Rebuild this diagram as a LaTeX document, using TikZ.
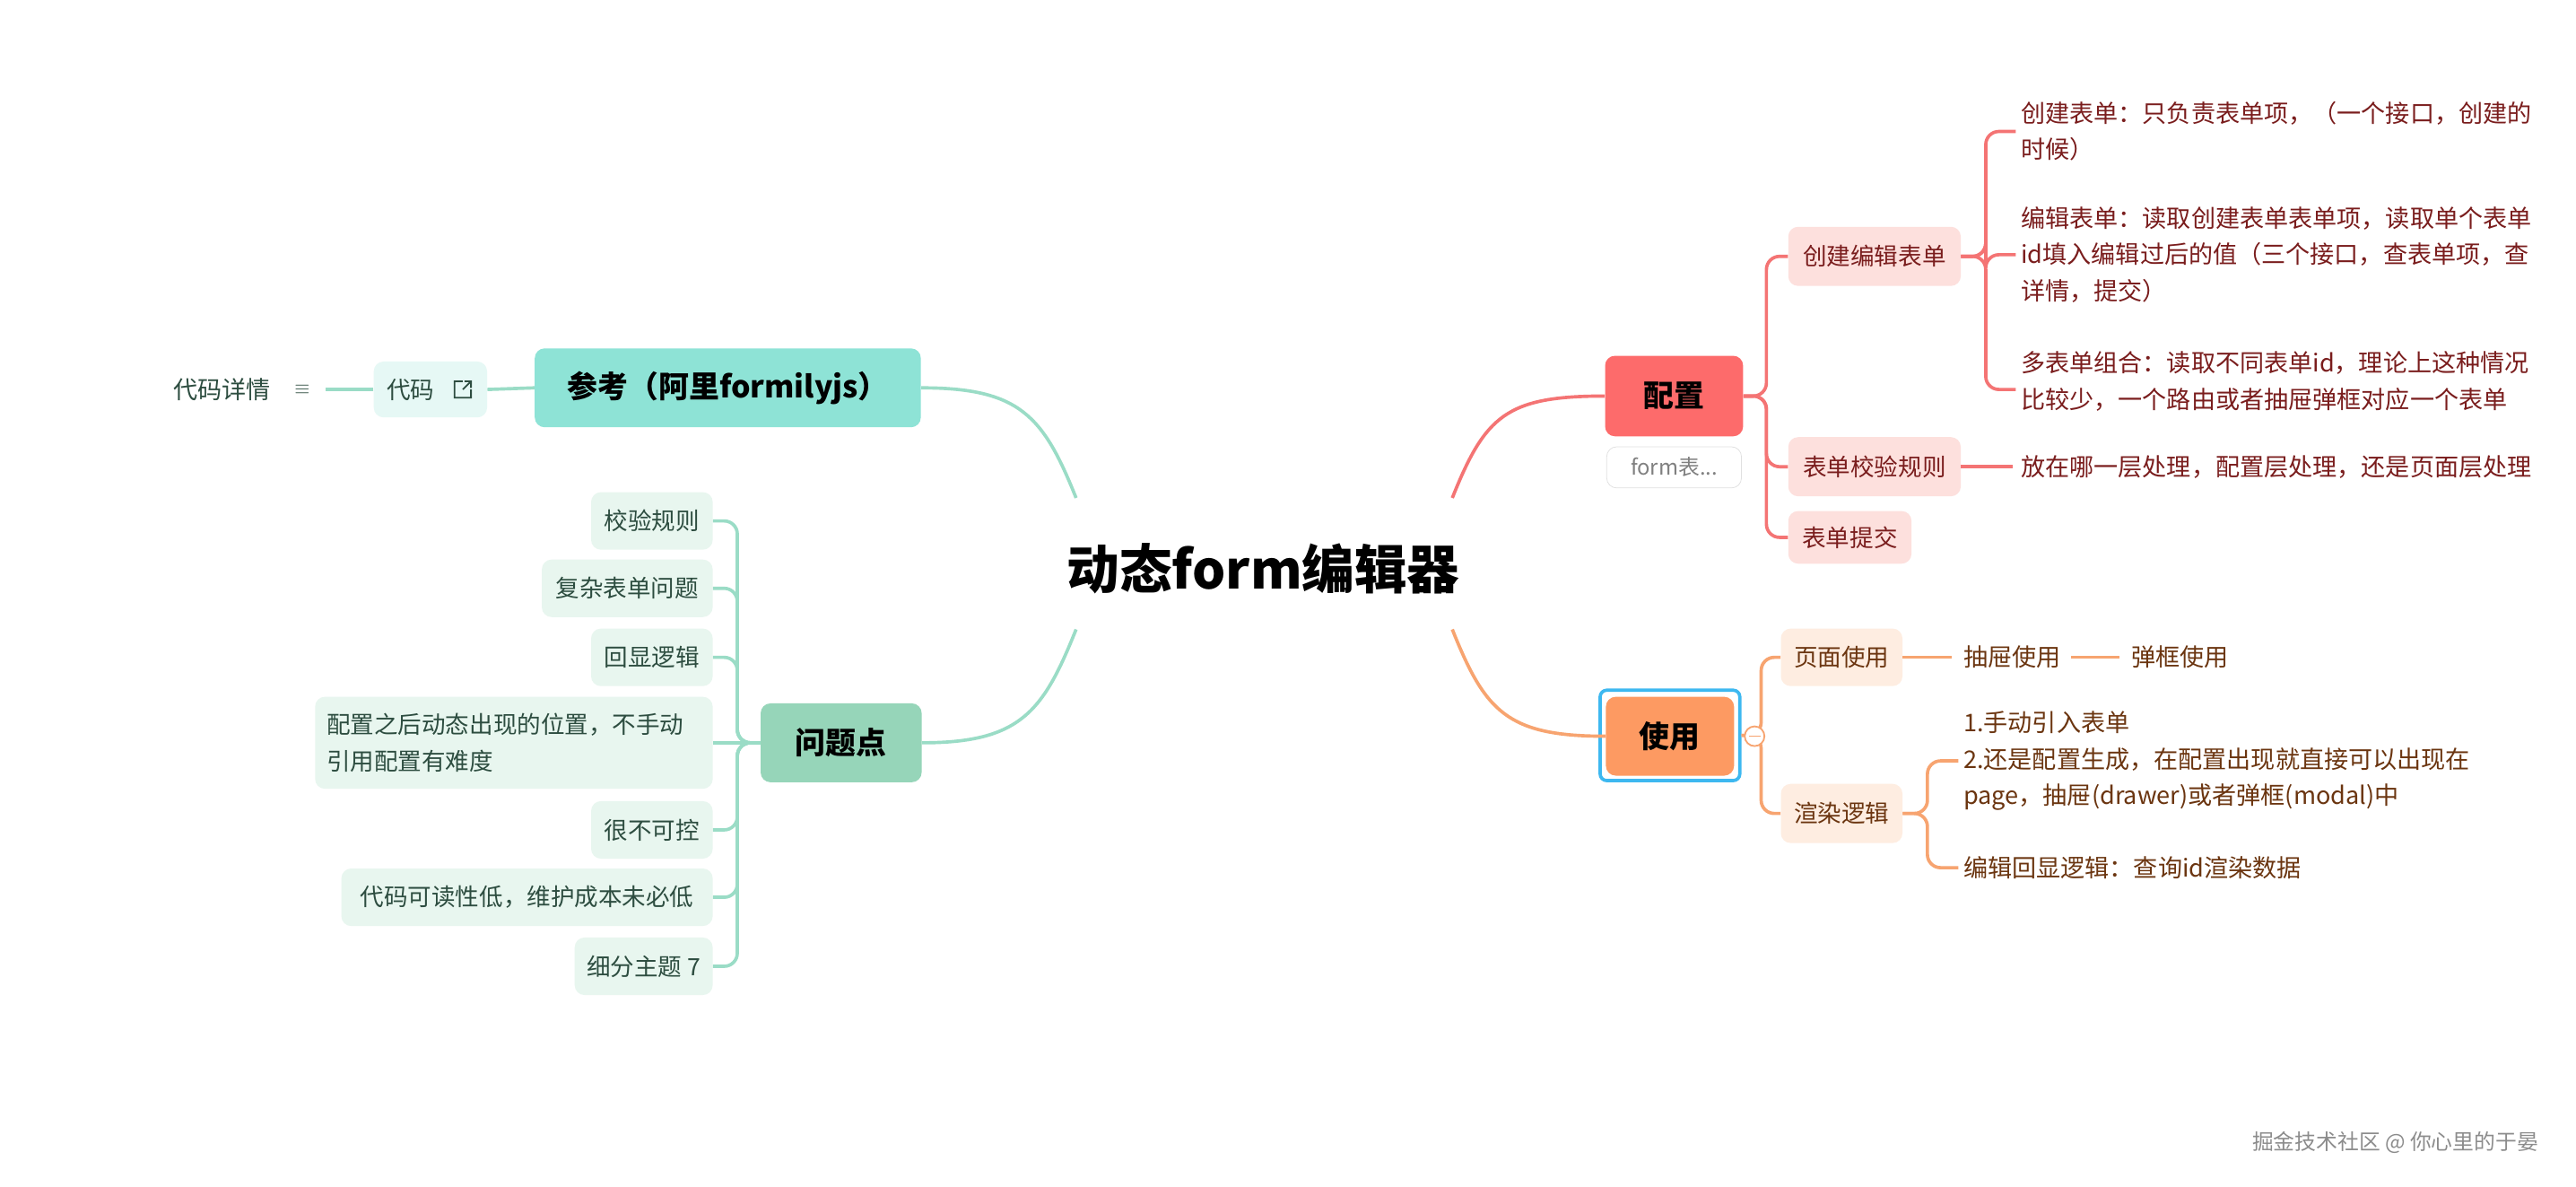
\documentclass[tikz,border=0pt]{standalone}
\usepackage{fontspec}
\setmainfont{Noto Sans CJK SC}
\usepackage{tikz}
\usetikzlibrary{positioning, calc}
\definecolor{refmain}{HTML}{8EE3D6}
\definecolor{refsub}{HTML}{E6F8F5}
\definecolor{probmain}{HTML}{96D5B9}
\definecolor{probsub}{HTML}{E8F6EF}
\definecolor{greenline}{HTML}{9ADCC6}
\definecolor{greentext}{HTML}{2D4D40}
\definecolor{cfgmain}{HTML}{FD6B6B}
\definecolor{cfgsub}{HTML}{FDE0DD}
\definecolor{cfgline}{HTML}{F47474}
\definecolor{cfgtext}{HTML}{7A1D1D}
\definecolor{usemain}{HTML}{FD9A62}
\definecolor{usesub}{HTML}{FEEDE1}
\definecolor{useline}{HTML}{F7A470}
\definecolor{usetext}{HTML}{6B3510}
\definecolor{selblue}{HTML}{3DB8F0}
\tikzset{
    main/.style={rectangle, rounded corners=6pt, font=\fontsize{18.5}{22}\selectfont\bfseries, text=black, inner sep=0pt},
    sub/.style={rectangle, rounded corners=6pt, font=\fontsize{14.5}{22}\selectfont, inner sep=0pt, minimum height=35pt},
    leaf/.style={font=\fontsize{14.8}{22}\selectfont, align=left, anchor=west, inner sep=0pt},
    link/.style={line width=2pt, rounded corners=8pt},
}
\begin{document}
\begin{tikzpicture}[x=1pt, y=-1pt]
    \useasboundingbox[fill=white] (0,0) rectangle (1568,722);

    % centre
    \node[font=\fontsize{32}{36}\selectfont\bfseries] (root) at (769,346) {动态form编辑器};

    % left: reference
    \node[main, fill=refmain, minimum width=235pt, minimum height=48pt] (ref) at (443,236) {参考（阿里formilyjs）};
    \node[sub, fill=refsub, text=greentext, minimum width=69pt, minimum height=34pt] (code) at (262,237) {代码\hspace{24pt}\mbox{}};
    \coordinate (codeicon) at ($(code.east)+(-15,0)$);
    \draw[greentext, line width=1pt] ($(codeicon)+(0,-5)$) -- ++(-5,0) -- ++(0,10) -- ++(10,0) -- ++(0,-5)
        ($(codeicon)+(0,0)$) -- ++(5,-5) ++(-4,0) -- ++(4,0) -- ++(0,4);
    \node[leaf, text=greentext, anchor=center] (detail) at (135,237) {代码详情};
    \node[font=\fontsize{13}{13}\selectfont, text=greentext] (detailicon) at (184,237) {$\equiv$};
    \coordinate (rl1) at (655,303);
    \coordinate (rl2) at (655,383);
    \draw[greenline, line width=2pt] (rl1) .. controls ++(-20,-50) and ++(60,0) .. (ref.east);
    \draw[greenline, line width=2pt] (ref.west) -- (code.east);
    \draw[greenline, line width=2pt] (code.west) -- ($(detailicon.east)+(6,0)$);

    % left: problems
    \node[main, fill=probmain, minimum width=98pt, minimum height=48pt] (prob) at (512,452) {问题点};
    \draw[greenline, line width=2pt] (rl2) .. controls ++(-20,50) and ++(60,0) .. (prob.east);
    \node[sub, fill=probsub, text=greentext, minimum width=74pt, anchor=east] (p1) at (434,317) {校验规则};
    \node[sub, fill=probsub, text=greentext, minimum width=104pt, anchor=east] (p2) at (434,358) {复杂表单问题};
    \node[sub, fill=probsub, text=greentext, minimum width=74pt, anchor=east] (p3) at (434,400) {回显逻辑};
    \node[sub, fill=probsub, text=greentext, minimum width=242pt, minimum height=56pt, anchor=east, align=left, text width=228pt] (p4) at (434,452) {配置之后动态出现的位置，不手动\\引用配置有难度};
    \node[sub, fill=probsub, text=greentext, minimum width=74pt, anchor=east] (p5) at (434,505) {很不可控};
    \node[sub, fill=probsub, text=greentext, minimum width=226pt, anchor=east] (p6) at (434,546) {代码可读性低，维护成本未必低};
    \node[sub, fill=probsub, text=greentext, minimum width=84pt, anchor=east] (p7) at (434,588) {细分主题 7};
    \foreach \n in {p1,p2,p3,p5,p6,p7}
        \draw[greenline, link] (prob.west) -- ++(-14,0) |- (\n.east);
    \draw[greenline, line width=2pt] (prob.west) -- (p4.east);

    % right: configuration
    \node[main, fill=cfgmain, minimum width=84pt, minimum height=49pt] (cfg) at (1019,241) {配置};
    \node[draw=black!12, rounded corners=6pt, minimum width=82pt, minimum height=25pt, font=\fontsize{13}{13}\selectfont, text=black!50, below=6pt of cfg] (cfgnote) {form表...};
    \coordinate (rr1) at (884,303);
    \coordinate (rr2) at (884,383);
    \draw[cfgline, line width=2pt] (rr1) .. controls ++(20,-50) and ++(-60,0) .. (cfg.west);
    \node[sub, fill=cfgsub, text=cfgtext, minimum width=105pt, minimum height=36pt] (c1) at (1141,156) {创建编辑表单};
    \node[sub, fill=cfgsub, text=cfgtext, minimum width=105pt, minimum height=36pt] (c2) at (1141,284) {表单校验规则};
    \node[sub, fill=cfgsub, text=cfgtext, minimum width=75pt, minimum height=32pt] (c3) at (1126,327) {表单提交};
    \foreach \n in {c1,c2,c3}
        \draw[cfgline, link] (cfg.east) -- ++(14,0) |- (\n.west);
    \node[leaf, text=cfgtext] (c1a) at (1230,80) {创建表单：只负责表单项，（一个接口，创建的\\时候）};
    \node[leaf, text=cfgtext] (c1b) at (1230,155) {编辑表单：读取创建表单表单项，读取单个表单\\id填入编辑过后的值（三个接口，查表单项，查\\详情，提交）};
    \node[leaf, text=cfgtext] (c1c) at (1230,232) {多表单组合：读取不同表单id，理论上这种情况\\比较少，一个路由或者抽屉弹框对应一个表单};
    \coordinate (c1ahook) at (1227,80);
    \coordinate (c1bhook) at (1227,155);
    \coordinate (c1chook) at (1227,237);
    \foreach \n in {c1a,c1b,c1c}
        \draw[cfgline, link] (c1.east) -- ++(15,0) |- (\n hook);
    \node[leaf, text=cfgtext] (c2a) at (1230,284) {放在哪一层处理，配置层处理，还是页面层处理};
    \draw[cfgline, line width=2pt] (c2.east) -- ($(c2a.west)+(-5,0)$);

    % right: usage
    \node[draw=selblue, line width=2pt, rounded corners=4pt, minimum width=85pt, minimum height=55pt] (usesel) at (1016.5,447.5) {};
    \node[main, fill=usemain, minimum width=78pt, minimum height=48pt] (use) at (1016.5,448) {使用};
    \draw[useline, line width=2pt] (rr2) .. controls ++(20,50) and ++(-60,0) .. (use.west);
    \node[sub, fill=usesub, text=usetext, minimum width=74pt, minimum height=35pt] (u1) at (1121,400) {页面使用};
    \node[sub, fill=usesub, text=usetext, minimum width=74pt, minimum height=36pt] (u2) at (1121,495) {渲染逻辑};
    \foreach \n in {u1,u2}
        \draw[useline, link] (usesel.east) -- ++(12,0) |- (\n.west);
    \node[circle, draw=useline, fill=white, line width=1pt, minimum size=12pt, inner sep=0pt] (fold) at (1068,448) {};
    \draw[useline, line width=1pt] ($(fold.center)+(-3.5,0)$) -- ($(fold.center)+(3.5,0)$);
    \node[leaf, text=usetext] (u1a) at (1195,400) {抽屉使用};
    \node[leaf, text=usetext] (u1b) at (1297,400) {弹框使用};
    \draw[useline, line width=2pt] (u1.east) -- ($(u1a.west)+(-7,0)$);
    \draw[useline, line width=2pt] ($(u1a.east)+(6,0)$) -- ($(u1b.west)+(-7,0)$);
    \node[leaf, text=usetext] (u2a) at (1195,463) {1.手动引入表单\\2.还是配置生成，在配置出现就直接可以出现在\\page，抽屉(drawer)或者弹框(modal)中};
    \node[leaf, text=usetext] (u2b) at (1195,528) {编辑回显逻辑：查询id渲染数据};
    \draw[useline, link] (u2.east) -- ++(15,0) |- ($(u2a.west)+(-3,0)$);
    \draw[useline, link] (u2.east) -- ++(15,0) |- ($(u2b.west)+(-3,0)$);

    % watermark
    \node[font=\fontsize{13}{13}\selectfont, text=black!45] (mark) at (1458,695) {掘金技术社区 @ 你心里的于晏};
\end{tikzpicture}
\end{document}
